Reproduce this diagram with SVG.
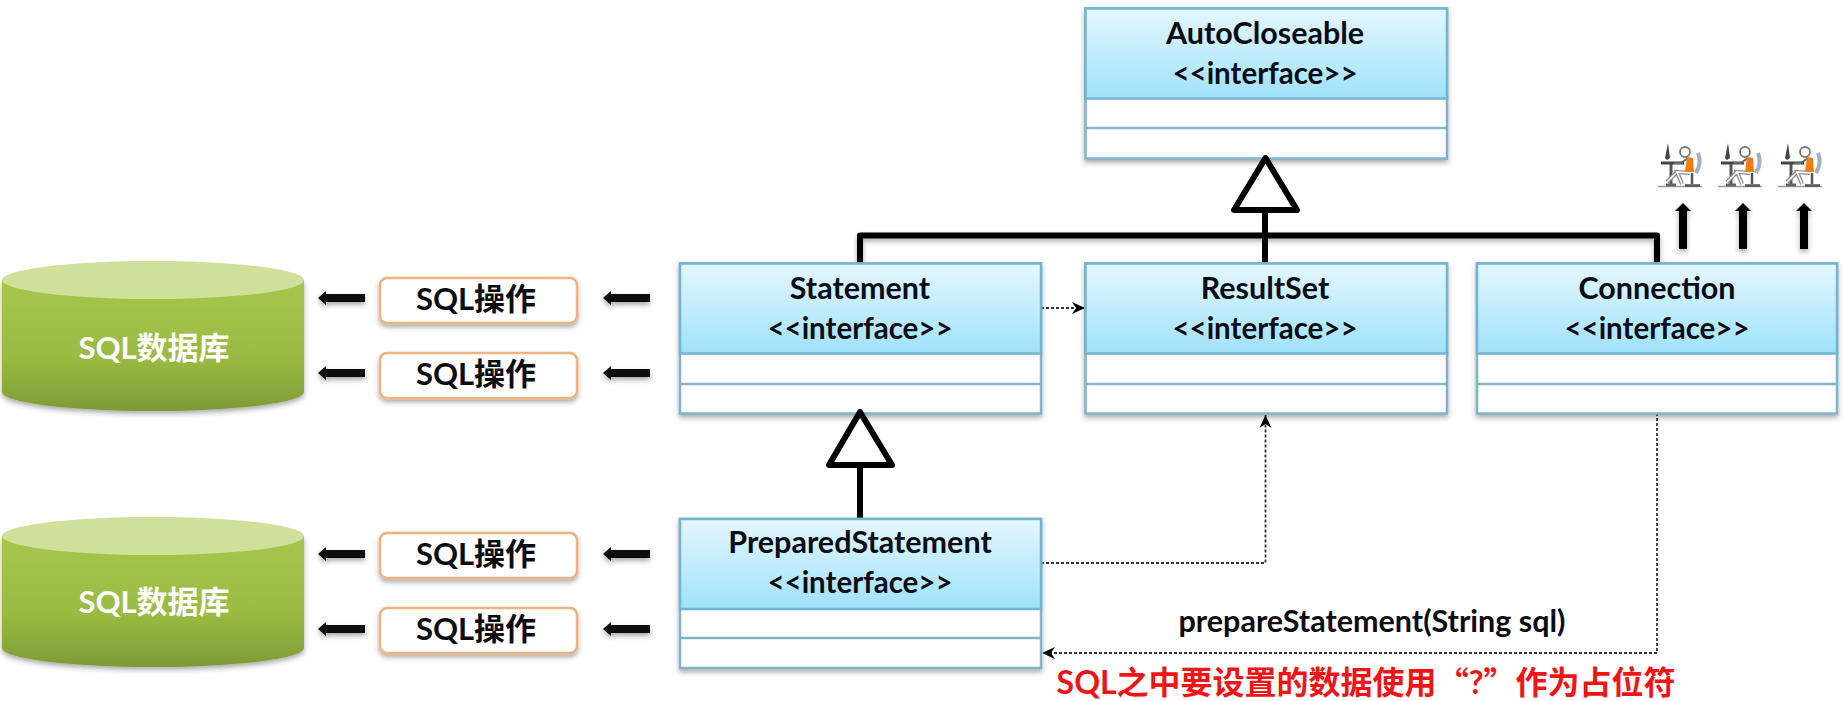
<svg xmlns="http://www.w3.org/2000/svg" width="1843" height="701" viewBox="0 0 1843 701">
<style>
text{font-family:"Lato","Noto Sans CJK SC",sans-serif;font-weight:700;text-anchor:middle;dominant-baseline:central;fill:#0b0b12}
.t{font-size:30.5px}
.i{font-size:29.5px}
.op{font-size:31px}
.db{font-size:31px;fill:#fff}
.hd{fill:url(#hdr);stroke:#72b4d2;stroke-width:2.5}
.bd{fill:#fff;stroke:#7fb3ca;stroke-width:2.5}
.opb{fill:#fff;stroke:#eeb283;stroke-width:2.5}
.thick{fill:none;stroke:#000;stroke-width:6;stroke-linejoin:round}
.tri{fill:#fff;stroke:#000;stroke-width:6;stroke-linejoin:round}
.dash{fill:none;stroke:#333;stroke-width:1.8;stroke-dasharray:3 2;marker-end:url(#open)}
.soft{filter:url(#sh)}
.q{font-family:"Noto Sans CJK SC",sans-serif}
</style>
<defs>
<linearGradient id="hdr" x1="0" y1="0" x2="0" y2="1"><stop offset="0" stop-color="#e4f7fe"/><stop offset="1" stop-color="#9fe2fb"/></linearGradient>
<linearGradient id="cyl" x1="0" y1="0" x2="0" y2="1"><stop offset="0" stop-color="#a8c64c"/><stop offset="0.6" stop-color="#9aba43"/><stop offset="1" stop-color="#7d9b34"/></linearGradient>
<filter id="sh" x="-10%" y="-20%" width="120%" height="150%"><feDropShadow dx="0" dy="3" stdDeviation="2.5" flood-color="#333" flood-opacity="0.4"/></filter>
<marker id="open" markerUnits="userSpaceOnUse" markerWidth="16" markerHeight="16" refX="14" refY="8" orient="auto"><path d="M1 2 L14 8 L1 14 L5 8 Z" fill="#000"/></marker>
<g id="la" class="soft"><path d="M0 0 L8 -7 V-4 H47 V4 H8 V7 Z" fill="#0a0a0a"/></g>
<g id="ua" class="soft"><path d="M0 0 L8 8 H4 V46 H-4 V8 H-8 Z" fill="#000"/></g>
<g id="person">
<path d="M0 43.5 H44" stroke="#999" stroke-width="1.5"/>
<path d="M10 0 L7 15 L9 17 L12 15 Z" fill="#444"/>
<path d="M3 20 H26" stroke="#444" stroke-width="3"/>
<path d="M13 21 V41" stroke="#555" stroke-width="3"/>
<path d="M8 42 H18" stroke="#666" stroke-width="3"/>
<circle cx="27" cy="9" r="5" fill="#fff" stroke="#777" stroke-width="1.8"/>
<path d="M32 30 L19 29 L24 41 M19 29 L9 39" stroke="#888" stroke-width="4" fill="none"/>
<path d="M32 30 L19 29 L24 41 M19 29 L9 39" stroke="#fff" stroke-width="1.6" fill="none"/>
<path d="M30 15 L23 20 H16" stroke="#666" stroke-width="2" fill="none"/>
<path d="M29 14 L35 15 L36 29 L27 29 Z" fill="#f07d12"/>
<path d="M40 10 Q44 20 38 30" stroke="#a3afc4" stroke-width="4" fill="none"/>
<path d="M34 30 V41" stroke="#555" stroke-width="2.5"/>
<path d="M27 42.5 H42" stroke="#555" stroke-width="2.5"/>
</g>
</defs>
<rect width="1843" height="701" fill="#fff"/>

<g id="connectors">
<path class="thick soft" d="M860 263 V235.5 H1657 V263"/>
<path class="thick" d="M1265 210 V263"/>
<path class="thick" d="M860 465 V519"/>
<path class="dash" d="M1041 308 H1085"/>
<path class="dash" d="M1041 563 H1265.5 V415"/>
<path class="dash" d="M1657 413 V653 H1042"/>
<use href="#la" x="318" y="298"/><use href="#la" x="318" y="373"/>
<use href="#la" x="318" y="554"/><use href="#la" x="318" y="629"/>
<use href="#la" x="603" y="298"/><use href="#la" x="603" y="373"/>
<use href="#la" x="603" y="554"/><use href="#la" x="603" y="629"/>
<use href="#ua" x="1683" y="203"/><use href="#ua" x="1743" y="203"/><use href="#ua" x="1804" y="203"/>
</g>

<g id="db1">
<path class="soft" d="M2 280 V392 A151 19 0 0 0 304 392 V280 Z" fill="url(#cyl)"/>
<ellipse cx="153" cy="280" rx="151" ry="19" fill="#cfe09a"/>
<text class="db" x="154" y="347">SQL数据库</text>
</g>
<g id="db2">
<path class="soft" d="M2 536 V648 A151 19 0 0 0 304 648 V536 Z" fill="url(#cyl)"/>
<ellipse cx="153" cy="536" rx="151" ry="19" fill="#cfe09a"/>
<text class="db" x="154" y="601">SQL数据库</text>
</g>

<g id="op1"><rect class="opb soft" x="380" y="278" width="197" height="45" rx="7"/><text class="op" x="476" y="298">SQL操作</text></g>
<g id="op2"><rect class="opb soft" x="380" y="353" width="197" height="45" rx="7"/><text class="op" x="476" y="373">SQL操作</text></g>
<g id="op3"><rect class="opb soft" x="380" y="533" width="197" height="45" rx="7"/><text class="op" x="476" y="553">SQL操作</text></g>
<g id="op4"><rect class="opb soft" x="380" y="608" width="197" height="45" rx="7"/><text class="op" x="476" y="628">SQL操作</text></g>

<g id="autocloseable">
<rect class="bd soft" x="1085.5" y="8.5" width="361.5" height="150"/>
<rect class="hd" x="1085.5" y="8.5" width="361.5" height="90"/>
<path class="bd" d="M1085.5 128 H1447"/>
<text class="t" x="1265" y="32">AutoCloseable</text>
<text class="t i" x="1265" y="72">&lt;&lt;interface&gt;&gt;</text>
</g>
<g id="statement">
<rect class="bd soft" x="680" y="263.5" width="361" height="150"/>
<rect class="hd" x="680" y="263.5" width="361" height="90"/>
<path class="bd" d="M680 384 H1041"/>
<text class="t" x="860" y="287">Statement</text>
<text class="t i" x="860" y="327">&lt;&lt;interface&gt;&gt;</text>
</g>
<g id="resultset">
<rect class="bd soft" x="1085.5" y="263.5" width="361.5" height="150"/>
<rect class="hd" x="1085.5" y="263.5" width="361.5" height="90"/>
<path class="bd" d="M1085.5 384 H1447"/>
<text class="t" x="1265" y="287">ResultSet</text>
<text class="t i" x="1265" y="327">&lt;&lt;interface&gt;&gt;</text>
</g>
<g id="connection">
<rect class="bd soft" x="1477" y="263.5" width="360" height="150"/>
<rect class="hd" x="1477" y="263.5" width="360" height="90"/>
<path class="bd" d="M1477 384 H1837"/>
<text class="t" x="1657" y="287">Connection</text>
<text class="t i" x="1657" y="327">&lt;&lt;interface&gt;&gt;</text>
</g>
<g id="preparedstatement">
<rect class="bd soft" x="680" y="519" width="361" height="149"/>
<rect class="hd" x="680" y="519" width="361" height="90"/>
<path class="bd" d="M680 638 H1041"/>
<text class="t" x="860" y="541">PreparedStatement</text>
<text class="t i" x="860" y="581">&lt;&lt;interface&gt;&gt;</text>
</g>

<g id="triangles">
<path class="tri" d="M1265.5 158 L1234 210 H1297 Z"/>
<path class="tri" d="M860 412 L829 465 H892 Z"/>
</g>

<g id="users">
<use href="#person" x="1658" y="143"/>
<use href="#person" x="1718" y="143"/>
<use href="#person" x="1778" y="143"/>
</g>

<text x="1372" y="620" style="font-size:30.5px">prepareStatement(String sql)</text>
<text x="1366" y="681" style="font-size:32px;fill:#f01414">SQL之中要设置的数据使用<tspan class="q">“</tspan>?<tspan class="q">”</tspan>作为占位符</text>
</svg>
